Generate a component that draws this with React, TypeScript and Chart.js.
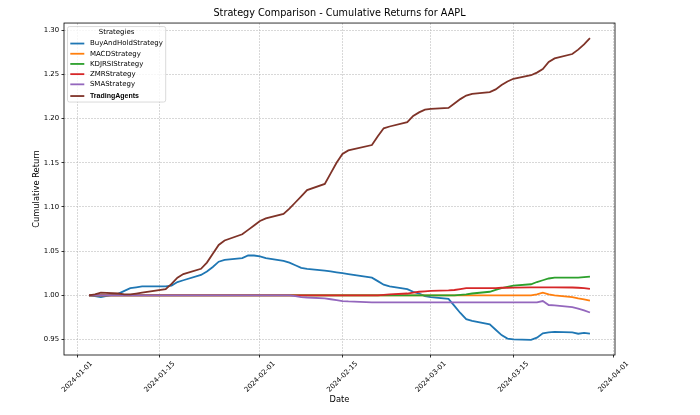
import React, { useEffect, useRef } from "react";
import { Chart, registerables } from "chart.js";

Chart.register(...registerables);

const FONT = '"DejaVu Sans", sans-serif';

const chartTitle = "Strategy Comparison - Cumulative Returns for AAPL";
const xAxisTitle = "Date";
const yAxisTitle = "Cumulative Return";
const legendTitle = "Strategies";

const dates = [
  "2024-01-03", "2024-01-04", "2024-01-05", "2024-01-08", "2024-01-09", "2024-01-10", "2024-01-11", "2024-01-12",
  "2024-01-16", "2024-01-17", "2024-01-18", "2024-01-19", "2024-01-22", "2024-01-23", "2024-01-24", "2024-01-25",
  "2024-01-26", "2024-01-29", "2024-01-30", "2024-01-31", "2024-02-01", "2024-02-02", "2024-02-05", "2024-02-06",
  "2024-02-07", "2024-02-08", "2024-02-09", "2024-02-12", "2024-02-13", "2024-02-14", "2024-02-15", "2024-02-16",
  "2024-02-20", "2024-02-21", "2024-02-22", "2024-02-23", "2024-02-26", "2024-02-27", "2024-02-28", "2024-02-29",
  "2024-03-01", "2024-03-04", "2024-03-05", "2024-03-06", "2024-03-07", "2024-03-08", "2024-03-11", "2024-03-12",
  "2024-03-13", "2024-03-14", "2024-03-15", "2024-03-18", "2024-03-19", "2024-03-20", "2024-03-21", "2024-03-22",
  "2024-03-25", "2024-03-26", "2024-03-27", "2024-03-28",
];

const buyAndHold = [
  1.000, 0.999, 0.998, 1.002, 1.005, 1.008, 1.009, 1.010, 1.010, 1.011,
  1.015, 1.017, 1.023, 1.027, 1.032, 1.038, 1.040, 1.042, 1.045, 1.045,
  1.044, 1.042, 1.039, 1.037, 1.034, 1.031, 1.030, 1.028, 1.027, 1.026,
  1.025, 1.024, 1.020, 1.016, 1.012, 1.010, 1.007, 1.004, 1.002, 0.999,
  0.998, 0.996, 0.988, 0.980, 0.973, 0.971, 0.967, 0.961, 0.955, 0.951,
  0.950, 0.9495, 0.952, 0.957, 0.958, 0.9585, 0.958, 0.9565, 0.9575, 0.9565,
];

const macd = [
  1.000, 1.000, 1.000, 1.000, 1.000, 1.000, 1.000, 1.000, 1.000, 1.000,
  1.000, 1.000, 1.000, 1.000, 1.000, 1.000, 1.000, 1.000, 1.000, 1.000,
  1.000, 1.000, 1.000, 1.000, 1.000, 1.000, 1.000, 1.000, 1.000, 1.000,
  1.000, 1.000, 1.000, 1.000, 1.000, 1.000, 1.000, 1.000, 1.000, 1.000,
  1.000, 1.000, 1.000, 1.000, 1.000, 1.000, 1.000, 1.000, 1.000, 1.000,
  1.000, 1.000, 1.001, 1.003, 1.001, 1.000, 0.998, 0.9965, 0.9955, 0.994,
];

const kdjrsi = [
  1.000, 1.000, 1.000, 1.000, 1.000, 1.000, 1.000, 1.000, 1.000, 1.000,
  1.000, 1.000, 1.000, 1.000, 1.000, 1.000, 1.000, 1.000, 1.000, 1.000,
  1.000, 1.000, 1.000, 1.000, 1.000, 1.000, 1.000, 1.000, 1.000, 1.000,
  1.000, 1.000, 1.000, 1.000, 1.000, 1.000, 1.000, 1.000, 1.000, 1.000,
  1.000, 1.000, 1.000, 1.0005, 1.001, 1.002, 1.004, 1.006, 1.008, 1.0095,
  1.011, 1.0125, 1.015, 1.017, 1.019, 1.020, 1.020, 1.020, 1.0205, 1.021,
];

const zmr = [
  1.000, 1.000, 1.000, 1.000, 1.000, 1.000, 1.000, 1.000, 1.000, 1.000,
  1.000, 1.000, 1.000, 1.000, 1.000, 1.000, 1.000, 1.000, 1.000, 1.000,
  1.000, 1.000, 1.000, 1.000, 1.000, 1.000, 1.000, 1.000, 1.000, 1.000,
  1.000, 1.000, 1.000, 1.000, 1.0005, 1.001, 1.002, 1.003, 1.004, 1.0045,
  1.005, 1.0055, 1.006, 1.007, 1.008, 1.008, 1.008, 1.0082, 1.0085, 1.0085,
  1.0087, 1.009, 1.009, 1.009, 1.009, 1.009, 1.0088, 1.0085, 1.008, 1.0072,
];

const sma = [
  1.000, 1.000, 1.000, 1.000, 1.000, 1.000, 1.000, 1.000, 1.000, 1.000,
  1.000, 1.000, 1.000, 1.000, 1.000, 1.000, 1.000, 1.000, 1.000, 1.000,
  1.000, 1.000, 1.000, 1.000, 0.999, 0.998, 0.9975, 0.9965, 0.9955, 0.9945,
  0.9935, 0.993, 0.992, 0.992, 0.992, 0.992, 0.992, 0.992, 0.992, 0.992,
  0.992, 0.992, 0.992, 0.992, 0.992, 0.992, 0.992, 0.992, 0.992, 0.992,
  0.992, 0.992, 0.992, 0.9935, 0.989, 0.9885, 0.9865, 0.985, 0.983, 0.9805,
];

const tradingAgents = [
  1.000, 1.001, 1.003, 1.002, 1.001, 1.001, 1.002, 1.003, 1.007, 1.013,
  1.020, 1.024, 1.030, 1.037, 1.047, 1.057, 1.062, 1.069, 1.074, 1.079,
  1.084, 1.087, 1.092, 1.098, 1.105, 1.112, 1.119, 1.126, 1.138, 1.150,
  1.160, 1.164, 1.170, 1.180, 1.189, 1.191, 1.196, 1.203, 1.207, 1.210,
  1.211, 1.212, 1.217, 1.222, 1.226, 1.228, 1.230, 1.233, 1.238, 1.242,
  1.245, 1.249, 1.252, 1.256, 1.264, 1.268, 1.273, 1.278, 1.284, 1.291,
];

const seriesNames = [
  "BuyAndHoldStrategy",
  "MACDStrategy",
  "KDJRSIStrategy",
  "ZMRStrategy",
  "SMAStrategy",
  "TradingAgents",
];
const seriesValues = [buyAndHold, macd, kdjrsi, zmr, sma, tradingAgents];
const seriesColors = ["#1f77b4", "#ff7f0e", "#2ca02c", "#d62728", "#9467bd", "#7f3328"];
const legendBold = [false, false, false, false, false, true];

const xTickLabels = [
  "2024-01-01", "2024-01-15", "2024-02-01", "2024-02-15", "2024-03-01", "2024-03-15", "2024-04-01",
];
const yTickValues = [0.95, 1.0, 1.05, 1.1, 1.15, 1.2, 1.25, 1.3];

const toDay = (s: string) => {
  const [y, m, d] = s.split("-").map(Number);
  return (Date.UTC(y, m - 1, d) - Date.UTC(2024, 0, 1)) / 86400000;
};

const xDays = dates.map(toDay);
const xTickDays = xTickLabels.map(toDay);

const LINE_W = 1.8;
const TICK_FONT = 6.9;
const GRID_COLOR = "rgba(176,176,176,0.7)";

const spinePlugin = {
  id: "spines",
  afterDatasetsDraw(chart: any) {
    const { ctx, chartArea } = chart;
    const { left, top, right, bottom } = chartArea;
    ctx.save();
    ctx.strokeStyle = "#000";
    ctx.lineWidth = 0.8;
    ctx.strokeRect(left, top, right - left, bottom - top);
    ctx.restore();
  },
};

const xLabelPlugin = {
  id: "xLabels",
  afterDraw(chart: any) {
    const scale = chart.scales.x;
    const ctx = chart.ctx;
    ctx.save();
    ctx.font = `${TICK_FONT}px ${FONT}`;
    ctx.fillStyle = "#000";
    ctx.textAlign = "center";
    ctx.textBaseline = "middle";
    scale.ticks.forEach((t: any) => {
      const idx = xTickDays.indexOf(t.value);
      if (idx < 0) return;
      const label = xTickLabels[idx];
      const px = scale.getPixelForValue(t.value);
      const w = ctx.measureText(label).width;
      const h = TICK_FONT * 1.17;
      const half = ((w + h) * Math.SQRT1_2) / 2;
      const cy = scale.top + 2.5 + 2.4 + half;
      ctx.save();
      ctx.translate(px, cy);
      ctx.rotate(-Math.PI / 4);
      ctx.fillText(label, 0, 0);
      ctx.restore();
    });
    ctx.restore();
  },
};

const legendPlugin = {
  id: "customLegend",
  afterDraw(chart: any) {
    const { ctx, chartArea } = chart;
    const fs = 7;
    const borderPad = 2.8;
    const handleLen = 14;
    const handlePad = 5.6;
    const x0 = chartArea.left + 3.5;
    const y0 = chartArea.top + 3.5;
    const datasets = chart.data.datasets;
    ctx.save();
    let maxW = 0;
    datasets.forEach((ds: any, i: number) => {
      ctx.font = legendBold[i]
        ? `bold ${fs}px "Liberation Sans", sans-serif`
        : `${fs}px ${FONT}`;
      maxW = Math.max(maxW, ctx.measureText(ds.label).width);
    });
    const width = borderPad * 2 + handleLen + handlePad + maxW;
    const rowY = (i: number) => y0 + 17 + i * 10.2 + (legendBold[i] ? 1.5 : 0);
    const height = rowY(datasets.length - 1) + 6 - y0;
    ctx.beginPath();
    if ((ctx as any).roundRect) (ctx as any).roundRect(x0, y0, width, height, 2);
    else ctx.rect(x0, y0, width, height);
    ctx.fillStyle = "rgba(255,255,255,0.8)";
    ctx.fill();
    ctx.strokeStyle = "#cccccc";
    ctx.lineWidth = 0.7;
    ctx.stroke();

    ctx.fillStyle = "#000";
    ctx.font = `${fs}px ${FONT}`;
    ctx.textAlign = "center";
    ctx.textBaseline = "middle";
    ctx.fillText(legendTitle, x0 + width / 2, y0 + 6);

    ctx.textAlign = "left";
    datasets.forEach((ds: any, i: number) => {
      const cy = rowY(i);
      ctx.beginPath();
      ctx.strokeStyle = ds.borderColor;
      ctx.lineWidth = LINE_W;
      ctx.moveTo(x0 + borderPad, cy);
      ctx.lineTo(x0 + borderPad + handleLen, cy);
      ctx.stroke();
      ctx.font = legendBold[i]
        ? `bold ${fs}px "Liberation Sans", sans-serif`
        : `${fs}px ${FONT}`;
      ctx.fillStyle = "#000";
      ctx.fillText(ds.label, x0 + borderPad + handleLen + handlePad, cy);
    });
    ctx.restore();
  },
};

export default function App() {
  const ref = useRef<HTMLCanvasElement>(null);

  useEffect(() => {
    if (!ref.current) return;
    const xMinD = Math.min(...xDays);
    const xMaxD = Math.max(...xDays);
    const xPad = (xMaxD - xMinD) * 0.05;
    const allY = seriesValues.flat();
    const yMinD = Math.min(...allY);
    const yMaxD = Math.max(...allY);
    const yPad = (yMaxD - yMinD) * 0.05;

    const n = seriesNames.length;
    const datasets = seriesNames.map((name, i) => ({
      label: name,
      data: seriesValues[i].map((v, j) => ({ x: xDays[j], y: v })),
      borderColor: seriesColors[i],
      backgroundColor: seriesColors[i],
      borderWidth: LINE_W,
      pointRadius: 0,
      tension: 0,
      fill: false,
      order: n - i,
    }));

    const chart = new Chart(ref.current, {
      type: "line",
      data: { datasets },
      plugins: [spinePlugin, xLabelPlugin, legendPlugin],
      options: {
        animation: false,
        responsive: false,
        devicePixelRatio: 1,
        layout: { padding: { left: 0, right: 85, top: 0, bottom: 0 } },
        plugins: {
          legend: { display: false },
          tooltip: { enabled: false },
          title: {
            display: true,
            text: chartTitle,
            fullSize: false,
            color: "#000",
            font: { family: FONT, size: 9.7, weight: "normal" },
            padding: { top: 7.2, bottom: 4.2 },
          },
        },
        scales: {
          x: {
            type: "linear",
            min: xMinD - xPad,
            max: xMaxD + xPad,
            afterBuildTicks: (scale: any) => {
              scale.ticks = xTickDays.map((v) => ({ value: v }));
            },
            afterFit: (scale: any) => {
              scale.height = 60;
            },
            ticks: { display: false },
            grid: {
              color: GRID_COLOR,
              lineWidth: 0.7,
              tickLength: 2.5,
              tickColor: "#000",
              tickWidth: 0.8,
              tickBorderDash: [],
            },
            border: { display: false, dash: [2, 1] },
            title: {
              display: true,
              text: xAxisTitle,
              color: "#000",
              font: { family: FONT, size: 8.3 },
              padding: { top: 0, bottom: 10 },
            },
          },
          y: {
            type: "linear",
            min: yMinD - yPad,
            max: yMaxD + yPad,
            afterBuildTicks: (scale: any) => {
              scale.ticks = yTickValues.map((v) => ({ value: v }));
            },
            afterFit: (scale: any) => {
              scale.width = 64;
            },
            ticks: {
              color: "#000",
              font: { family: FONT, size: TICK_FONT },
              padding: 2.4,
              callback: (v: any) => Number(v).toFixed(2),
            },
            grid: {
              color: GRID_COLOR,
              lineWidth: 0.7,
              tickLength: 2.5,
              tickColor: "#000",
              tickWidth: 0.8,
              tickBorderDash: [],
            },
            border: { display: false, dash: [2, 1] },
            title: {
              display: true,
              text: yAxisTitle,
              color: "#000",
              font: { family: FONT, size: 8.3 },
              padding: { top: 31.5, bottom: 0 },
            },
          },
        },
      } as any,
    } as any);
    return () => chart.destroy();
  }, []);

  return (
    <div style={{ position: "fixed", left: 0, top: 0, width: 700, height: 415, background: "#fff" }}>
      <canvas ref={ref} width={700} height={415} style={{ width: 700, height: 415, display: "block" }} />
    </div>
  );
}
